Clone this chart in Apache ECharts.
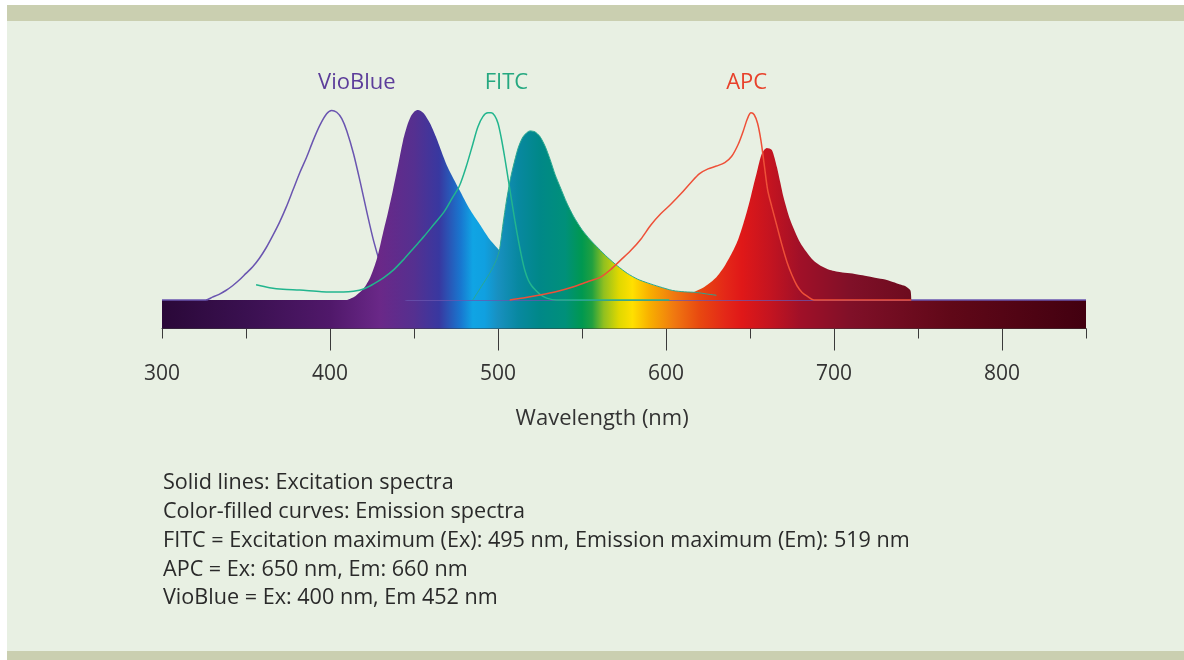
<!DOCTYPE html>
<html><head><meta charset="utf-8">
<script src="https://cdn.jsdelivr.net/npm/echarts@6/dist/echarts.min.js"></script>
<style>
html,body{margin:0;padding:0;background:#fff;}
#wrap{position:relative;width:1184px;height:660px;overflow:hidden;}
.bar{position:absolute;left:7px;right:0;background:#cacfb0;}
#panel{position:absolute;left:7px;right:0;top:21px;height:630px;background:#e8f0e3;}
#chart{position:absolute;left:0;top:0;width:1184px;height:660px;}
</style></head>
<body><div id="wrap"><div class="bar" style="top:5px;height:16px"></div><div id="panel"></div><div class="bar" style="top:651px;height:9px"></div><div id="chart"></div></div>
<script>
// ---- data ----
const xMin = 300, xMax = 850;
const tickStep = 50;
const labelStep = 100;
const majorTicks = [400, 500, 600, 700, 800];

// Excitation spectra (solid lines), % of max
const vioEx = [[300,0],[326,0],[330,1.5],[334,3],[338,5],[342,7.5],[346,10.5],[350,14],[354,17.5],[358,22],[362,27.5],[366,34],[370,41],[374,49],[378,58],[382,67],[386,75],[390,84],[394,92],[398,98],[401,99.8],[404,98.8],[407,95.5],[410,89],[414,77],[418,62],[422,46],[426,31],[430,19],[434,10],[438,4.5],[442,1.5],[446,0],[850,0]];
const fitcEx = [[356,8],[364,6.5],[372,5.6],[382,5.2],[395,4.4],[408,4.2],[414,4.6],[420,5.8],[426,8.5],[432,11.8],[438,16],[444,21.5],[450,27.5],[456,33.5],[462,40],[468,46.5],[473,54],[477,60],[481,70],[485,82],[488,91],[491,96.5],[494,98.5],[496,98.5],[498,97],[500,93],[502,85],[504,75],[506,64],[508,53],[510,42],[512,32],[514,23],[516,15.5],[518,10.5],[520,7.5],[522,5.5],[525,3],[529,1],[535,0],[602,0]];
const apcEx = [[507,0],[515,1],[525,2.6],[535,4.5],[545,7],[553,9.5],[561,12],[567,16],[573,21],[579,26],[585,32],[591,39.5],[597,45.5],[603,50.5],[609,56],[615,62],[620,66.5],[625,69],[630,70.5],[635,72.3],[639,75.5],[643,82],[646,89],[648.5,95.5],[650.6,98.5],[652.5,97.5],[654.5,93],[656.5,84],[658.5,71],[660.5,58],[663,49],[666,39],[669,29],[672,20],[675,13],[678,7.5],[681,4],[684,2],[688,0],[746,0]];

// Emission spectra (colour-filled curves), % of max
const vioEm = [[410,0],[415,2],[420,6],[424,12],[428,22],[431.5,35],[434.5,46],[437.5,58],[441,73],[443.5,84],[446,92],[448,96.5],[450,99],[452,100],[454,99.5],[456,98],[459.5,93],[463,86],[466,79],[470,70],[477,58],[483,48],[489,40],[495,32],[502,25],[510,17],[520,10],[530,5],[545,2],[560,0]];
const fitcEm = [[485,0],[490,7],[495,14],[499,21],[501,27],[503,40],[505,52],[507,62],[509,70],[512,80],[515,86],[519,89],[522,88.5],[525,86],[528,81],[531,74],[534,66],[537,59.5],[541,51],[545,44],[550,37],[555,31.6],[560,27],[565,22.6],[571,18],[577,14],[583,11],[589,9],[596,7],[604,5],[611,4.3],[618,4],[624,3.2],[630,2.5]];
const apcEm = [[600,0],[608,1.5],[616,4],[623,7],[630,12],[635,18],[640,26],[643,32],[646,40],[648,46],[650,52.6],[652,60],[654,67],[657,77],[660,80],[663,79],[666,70],[668,62],[670,54],[674,42],[680,30],[687.5,21],[692,18],[697.6,15.8],[705,14.5],[711,14],[717,13],[723,12],[729,11],[735,9.5],[740,8],[743,7],[745.5,5],[746,0]];

// Spectrum colours by wavelength
const spectrumStops = [[300,'#2a0838'],[350,'#3a1050'],[400,'#50186a'],[430,'#6a2888'],[450,'#553090'],[465,'#3838a0'],[478,'#1878d0'],[485,'#10a4e4'],[492,'#10a0e0'],[500,'#1890c0'],[512,'#0888a0'],[525,'#008888'],[540,'#00907a'],[550,'#009850'],[556,'#20a040'],[563,'#90c020'],[572,'#e0d800'],[580,'#ffe000'],[590,'#f8b000'],[605,'#f07810'],[620,'#e84810'],[635,'#e42818'],[645,'#e01818'],[662,'#c41420'],[680,'#a01028'],[710,'#801028'],[770,'#600818'],[850,'#420010']];

const dyeNames = ['VioBlue', 'FITC', 'APC'];
const dyeLabelAt = [416, 505, 648];
const dyeColors = ['#5c3d9a', '#25a880', '#e8402a'];
const axisTitle = 'Wavelength (nm)';
const notes = [
  'Solid lines: Excitation spectra',
  'Color-filled curves: Emission spectra',
  'FITC = Excitation maximum (Ex): 495 nm, Emission maximum (Em): 519 nm',
  'APC = Ex: 650 nm, Em: 660 nm',
  'VioBlue = Ex: 400 nm, Em 452 nm'
];

// ---- chart ----
const FONT = '"Open Sans", sans-serif';
const chart = echarts.init(document.getElementById('chart'), null, {renderer: 'canvas'});
chart.setOption({
  backgroundColor: 'transparent',
  animation: false,
  grid: {left: 162, right: 98, top: 100.5, bottom: 331.5},
  xAxis: [
    {type: 'value', min: xMin, max: xMax, interval: tickStep,
     axisLine: {show: true, onZero: false, lineStyle: {color: '#3a3a3a', width: 1}},
     axisTick: {show: true, length: 10, lineStyle: {color: '#3a3a3a'}},
     axisLabel: {fontSize: 21, color: '#333', margin: 35, fontFamily: FONT,
       formatter: v => (v % labelStep === 0 ? String(v) : '')},
     splitLine: {show: false}},
    {type: 'value', min: xMin, max: xMax, position: 'bottom',
     axisLine: {show: false, onZero: false},
     axisTick: {show: true, customValues: majorTicks, length: 22, lineStyle: {color: '#3a3a3a'}},
     axisLabel: {show: false}, splitLine: {show: false}}
  ],
  yAxis: {type: 'value', min: -15, max: 105, show: false},
  series: []
});

const p0 = chart.convertToPixel({xAxisIndex: 0}, xMin);
const p1 = chart.convertToPixel({xAxisIndex: 0}, xMax);
function grad() {
  return {type: 'linear', x: p0, y: 0, x2: p1, y2: 0, global: true,
    colorStops: spectrumStops.map(s => ({offset: (s[0] - xMin) / (xMax - xMin), color: s[1]}))};
}
function exLine(name, data, color, z) {
  return {name, type: 'line', data, symbol: 'none', smooth: 0.3, z, silent: true,
    lineStyle: {color, width: 1.5}};
}
function emArea(name, data, stroke, z) {
  return {name, type: 'line', data, symbol: 'none', smooth: 0.25, z, silent: true,
    lineStyle: stroke ? {color: stroke, width: 1} : {opacity: 0},
    areaStyle: {color: grad(), opacity: 1}};
}

const graphics = [];
dyeNames.forEach((n, i) => {
  graphics.push({type: 'text', x: chart.convertToPixel({xAxisIndex: 0}, dyeLabelAt[i]), y: 83,
    style: {text: n, fill: dyeColors[i], font: '22px ' + FONT, textAlign: 'center', textVerticalAlign: 'middle'}});
});
graphics.push({type: 'text', x: chart.convertToPixel({xAxisIndex: 0}, 562), y: 419,
  style: {text: axisTitle, fill: '#333', font: '22px ' + FONT, textAlign: 'center', textVerticalAlign: 'middle'}});
notes.forEach((t, i) => {
  graphics.push({type: 'text', x: 163, y: 483 + i * 28.8,
    style: {text: t, fill: '#2a2a2a', font: '21.6px ' + FONT, textAlign: 'left', textVerticalAlign: 'middle'}});
});

chart.setOption({
  series: [
    {name: 'spectrum', type: 'line', data: [[xMin, 0], [xMax, 0]], symbol: 'none', z: 1, silent: true,
     lineStyle: {opacity: 0}, areaStyle: {origin: 'start', color: grad(), opacity: 1}},
    exLine('VioBlue Ex', vioEx, '#6a55b0', 2),
    emArea('VioBlue Em', vioEm, null, 3),
    emArea('FITC Em', fitcEm, '#2aa890', 3),
    emArea('APC Em', apcEm, null, 3),
    exLine('FITC Ex', fitcEx, '#22b58e', 4),
    exLine('APC Ex', apcEx, '#ee5038', 4)
  ],
  graphic: graphics
});
</script>
</body></html>
